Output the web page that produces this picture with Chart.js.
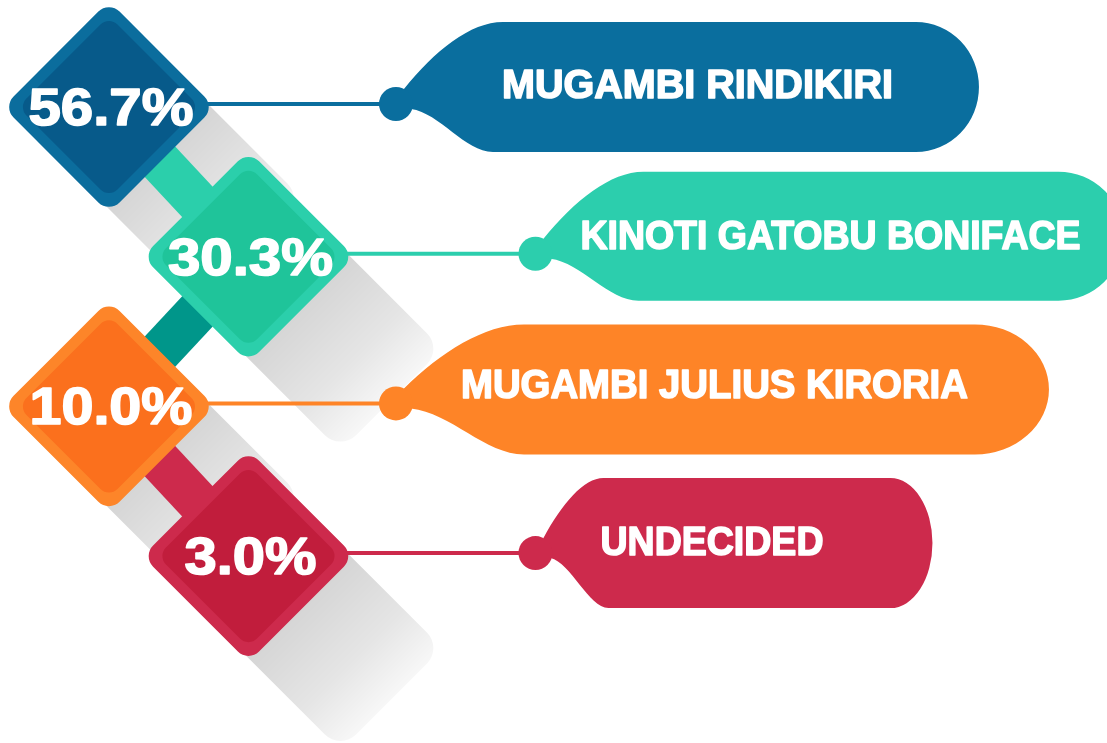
<!DOCTYPE html>
<html>
<head>
<meta charset="utf-8">
<script src="https://cdn.jsdelivr.net/npm/chart.js@4.4.1/dist/chart.umd.min.js"></script>
<style>
  html, body { margin: 0; padding: 0; background: #ffffff; }
  #wrap { width: 1107px; height: 743px; position: relative; }
</style>
</head>
<body>
<div id="wrap"><canvas id="c" width="1107" height="743"></canvas></div>
<script>
// ---------- data ----------
const candidates = ["MUGAMBI RINDIKIRI", "KINOTI GATOBU BONIFACE", "MUGAMBI JULIUS KIRORIA", "UNDECIDED"];
const shares = [56.7, 30.3, 10.0, 3.0];
const shareLabels = shares.map(v => v.toFixed(1) + "%");
const columns = [0, 1, 0, 1]; // zig-zag column of each diamond

// ---------- styles ----------
const outerColors = ["#0b6d9d", "#2bcfab", "#fd8529", "#cd2a4c"];
const innerColors = ["#075a8a", "#1fc49a", "#fb701d", "#c11d3c"];
const tagColors = ["#0a6e9e", "#2ccead", "#fe8427", "#cd2a4c"];
const connectorColors = ["#2bcfab", "#00968a", "#cd2a4c"];
const tagShapes = [
  { neck: 107, neckB: 97,  top: -82, bot: 48, len: 583, rx: 63, textX: 105, textW: 393, base: -6 },
  { neck: 108, neckB: 103, top: -82, bot: 47, len: 588, rx: 65, textX: 44,  textW: 502, base: -5 },
  { neck: 128, neckB: 128, top: -79, bot: 51, len: 653, rx: 74, textX: 64,  textW: 509, base: -5 },
  { neck: 68,  neckB: 73,  top: -75, bot: 55, len: 397, rx: 42, textX: 64,  textW: 225, base: 2 }
];
const pctWidths = [167, 167, 165, 134];

const H = 106;          // half diagonal of diamond (sharp vertex)
const INSET = 15;       // inner diamond inset
const LEADER = 187;     // leader line length
const DOT_R = 17;
const SHADOW_LEN = 92;

function roundedPoly(ctx, pts, r) {
  const n = pts.length;
  ctx.beginPath();
  const mid = (a, b) => [(a[0] + b[0]) / 2, (a[1] + b[1]) / 2];
  const start = mid(pts[n - 1], pts[0]);
  ctx.moveTo(start[0], start[1]);
  for (let i = 0; i < n; i++) {
    const p = pts[i], q = pts[(i + 1) % n];
    ctx.arcTo(p[0], p[1], q[0], q[1], r);
  }
  ctx.closePath();
}
function diamondPts(cx, cy, h) {
  return [[cx, cy - h], [cx + h, cy], [cx, cy + h], [cx - h, cy]];
}
function fitText(ctx, text, x, y, font, w, center, stroke) {
  ctx.save();
  ctx.font = font;
  const m = ctx.measureText(text).width;
  const s = w / m;
  ctx.translate(x, y);
  ctx.scale(s, 1);
  ctx.textAlign = "left";
  ctx.textBaseline = "alphabetic";
  const tx = center ? -m / 2 : 0;
  if (stroke) {
    ctx.strokeStyle = ctx.fillStyle;
    ctx.lineWidth = stroke;
    ctx.lineJoin = "round";
    ctx.strokeText(text, tx, 0);
  }
  ctx.fillText(text, tx, 0);
  ctx.restore();
}

const infographic = {
  id: "infographic",
  afterDatasetsDraw(chart) {
    const ctx = chart.ctx;
    const pts = chart.getDatasetMeta(0).data.map(e => ({ x: e.x, y: e.y }));
    ctx.save();

    // long shadows
    pts.forEach(p => {
      const { x: cx, y: cy } = p;
      const D = SHADOW_LEN;
      const h = H - 4;
      const poly = [[cx, cy - h], [cx + h + D, cy + D], [cx + D, cy + h + D], [cx - h, cy]];
      const g = ctx.createLinearGradient(cx + 30, cy + 30, cx + h / 2 + D + 10, cy + h / 2 + D + 10);
      g.addColorStop(0, "rgba(0,0,0,0.19)");
      g.addColorStop(0.6, "rgba(0,0,0,0.10)");
      g.addColorStop(1, "rgba(0,0,0,0.01)");
      ctx.fillStyle = g;
      roundedPoly(ctx, poly, 22);
      ctx.fill();
    });

    // connectors
    for (let i = 0; i < pts.length - 1; i++) {
      ctx.strokeStyle = connectorColors[i];
      ctx.lineWidth = 43;
      ctx.lineCap = "butt";
      ctx.beginPath();
      ctx.moveTo(pts[i].x, pts[i].y);
      ctx.lineTo(pts[i + 1].x, pts[i + 1].y);
      ctx.stroke();
    }

    // leader lines, dots and tags
    pts.forEach((p, i) => {
      const s = tagShapes[i];
      const cy = p.y - 3;
      const x0 = p.x + 100;
      const cx = x0 + LEADER;
      const col = tagColors[i];
      ctx.strokeStyle = col;
      ctx.lineWidth = 4;
      ctx.beginPath();
      ctx.moveTo(x0 - 4, cy);
      ctx.lineTo(cx, cy);
      ctx.stroke();

      const top = cy + s.top, bot = cy + s.bot;
      const right = cx + s.len;
      const flatEnd = right - s.rx;
      const midY = (top + bot) / 2;
      const ry = (bot - top) / 2;
      ctx.fillStyle = col;
      ctx.beginPath();
      const p0 = [cx + 8, cy - 15];
      const tx = s.neck - 8, ty = top - p0[1];
      ctx.moveTo(cx + 2, cy);
      ctx.lineTo(p0[0], p0[1]);
      ctx.bezierCurveTo(p0[0] + 0.31 * tx, p0[1] + 0.57 * ty, p0[0] + 0.67 * tx, top, cx + s.neck, top);
      ctx.lineTo(flatEnd, top);
      ctx.ellipse(flatEnd, midY, s.rx, ry, 0, -Math.PI / 2, Math.PI / 2);
      ctx.lineTo(cx + s.neckB, bot);
      const b0 = [cx + 15, cy + 5];
      const bx = s.neckB - 15, by = bot - b0[1];
      ctx.bezierCurveTo(b0[0] + 0.66 * bx, bot, b0[0] + 0.35 * bx, b0[1] + 0.09 * by, b0[0], b0[1]);
      ctx.closePath();
      ctx.fill();
      ctx.beginPath();
      ctx.arc(cx, cy, DOT_R, 0, Math.PI * 2);
      ctx.fill();

      ctx.fillStyle = "#ffffff";
      fitText(ctx, candidates[i], cx + s.textX + 1, cy + s.base, "bold 40px 'Liberation Sans', Arial, sans-serif", s.textW - 2, false, 1.6);
    });

    // diamonds
    pts.forEach((p, i) => {
      ctx.fillStyle = outerColors[i];
      roundedPoly(ctx, diamondPts(p.x, p.y, H), 15);
      ctx.fill();
      ctx.fillStyle = innerColors[i];
      roundedPoly(ctx, diamondPts(p.x, p.y, H - INSET), 12);
      ctx.fill();
      ctx.fillStyle = "#ffffff";
      fitText(ctx, shareLabels[i], p.x + 2, p.y + 18, "bold 52px 'Liberation Sans', Arial, sans-serif", pctWidths[i] - 2, true, 1.6);
    });

    ctx.restore();
  }
};

new Chart(document.getElementById("c"), {
  type: "scatter",
  data: {
    labels: candidates,
    datasets: [{
      label: "Share",
      data: candidates.map((c, i) => ({ x: columns[i], y: i, v: shares[i] })),
      pointRadius: 0,
      pointHoverRadius: 0
    }]
  },
  options: {
    responsive: false,
    animation: false,
    events: [],
    layout: { padding: 0 },
    plugins: { legend: { display: false }, tooltip: { enabled: false } },
    scales: {
      x: { type: "linear", display: false, bounds: "data", min: -0.781, max: 7.154 },
      y: { type: "linear", display: false, bounds: "data", reverse: true, min: -0.7148, max: 4.2485 }
    }
  },
  plugins: [infographic]
});
</script>
</body>
</html>
